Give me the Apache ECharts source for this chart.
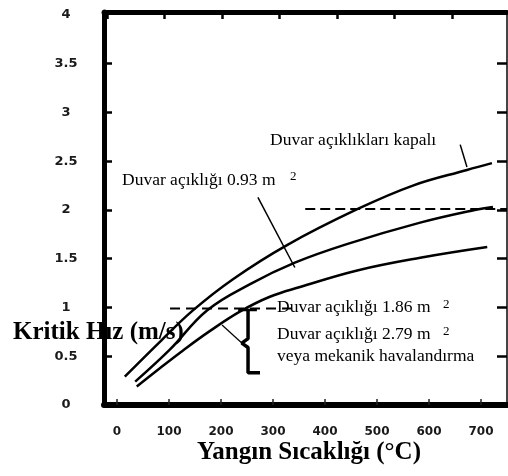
<!DOCTYPE html>
<html>
<head>
<meta charset="utf-8">
<script src="https://cdn.jsdelivr.net/npm/echarts@6/dist/echarts.min.js"></script>
<style>
html,body{margin:0;padding:0;background:#fff;}
#chart{width:508px;height:476px;}
</style>
</head>
<body>
<div id="chart"></div>
<script>
// ---- data ----
var xTickValues = [0, 100, 200, 300, 400, 500, 600, 700];
var yLabelValues = [0, 0.5, 1, 1.5, 2, 2.5, 3, 3.5, 4];
var topTickValues = [0, 100, 200, 300, 400, 500, 600];
var sideTickValues = [0.5, 1, 1.5, 2, 2.5, 3, 3.5];

// Duvar açıklıkları kapalı
var closedX = [15, 83, 146, 223, 327, 463, 569, 673, 721];
var closedY = [0.29, 0.65, 0.97, 1.29, 1.64, 2.01, 2.25, 2.41, 2.48];
// Duvar açıklığı 0.93 m2
var open093X = [35, 102, 173, 256, 342, 442, 583, 688, 723];
var open093Y = [0.24, 0.57, 0.97, 1.24, 1.46, 1.65, 1.87, 2.0, 2.03];
// Duvar açıklığı 1.86 m2
var open186X = [38, 83, 127, 179, 237, 294, 352, 462, 583, 712];
var open186Y = [0.19, 0.38, 0.56, 0.76, 0.96, 1.11, 1.21, 1.38, 1.51, 1.62];

// reference lines / leaders / bracket (data units)
var refLine2X = [362, 750];
var refLine2Y = [2.01, 2.01];
var refLine1X = [102, 346];
var refLine1Y = [0.99, 0.99];
var leader093X = [271, 342];
var leader093Y = [2.13, 1.41];
var leaderClosedX = [660, 673];
var leaderClosedY = [2.67, 2.44];
var bracketTopX = [233, 269];
var bracketTopY = [0.975, 0.975];
var bracketX = [252, 252, 240, 252, 252, 275];
var bracketY = [0.975, 0.68, 0.635, 0.59, 0.33, 0.33];
var bracketLeaderX = [202, 240];
var bracketLeaderY = [0.82, 0.636];

function pairs(xs, ys) { return xs.map(function (x, i) { return [x, ys[i]]; }); }

var chart = echarts.init(document.getElementById('chart'), null, {renderer: 'canvas'});

function lineSeries(name, xs, ys, width, dash, smooth) {
  return {
    name: name, type: 'line', xAxisIndex: 0, yAxisIndex: 0,
    data: pairs(xs, ys), showSymbol: false, symbol: 'none',
    smooth: smooth || false, silent: true,
    lineStyle: {color: '#000', width: width, type: dash || 'solid'},
    z: 5
  };
}

var serifReg = '17.5px "Liberation Serif", "Times New Roman", serif';
var serifBold = 'bold 25px "Liberation Serif", "Times New Roman", serif';
var supFont = '13px "Liberation Serif", "Times New Roman", serif';

function txt(x, y, s, font, align) {
  return {type: 'text', x: x, y: y, z: 20,
    style: {text: s, font: font, fill: '#000', align: align || 'left', verticalAlign: 'middle'}};
}

var option = {
  animation: false,
  backgroundColor: '#fff',
  grid: {left: 104, right: 1, top: 12, bottom: 71, containLabel: false},
  xAxis: [{
    type: 'value', position: 'bottom', min: -25, max: 750,
    axisLine: {show: true, onZero: false, lineStyle: {color: '#000', width: 6}},
    axisTick: {show: true, inside: true, length: 6, customValues: xTickValues, lineStyle: {color: '#222', width: 1.5}},
    axisLabel: {show: true, customValues: xTickValues, margin: 21, color: '#1a1a1a',
      fontFamily: 'DejaVu Sans', fontWeight: 'bold', fontSize: 12},
    splitLine: {show: false}
  }, {
    type: 'value', position: 'top', min: -5, max: 695,
    axisLine: {show: true, onZero: false, lineStyle: {color: '#000', width: 5}},
    axisTick: {show: true, inside: true, length: 7, customValues: topTickValues, lineStyle: {color: '#000', width: 2.5}},
    axisLabel: {show: false},
    splitLine: {show: false}
  }],
  yAxis: [{
    type: 'value', position: 'left', min: 0, max: 4.03,
    axisLine: {show: true, onZero: false, lineStyle: {color: '#000', width: 5}},
    axisTick: {show: true, inside: true, length: 8, customValues: sideTickValues, lineStyle: {color: '#000', width: 2.5}},
    axisLabel: {show: true, customValues: yLabelValues, margin: 38, align: 'center', color: '#1a1a1a',
      fontFamily: 'DejaVu Sans', fontWeight: 'bold', fontSize: 13, padding: [5, 0, 0, 0]},
    splitLine: {show: false}
  }, {
    type: 'value', position: 'right', min: 0, max: 4.03,
    axisLine: {show: true, onZero: false, lineStyle: {color: '#444', width: 2}},
    axisTick: {show: true, inside: true, length: 10, customValues: sideTickValues, lineStyle: {color: '#000', width: 2.5}},
    axisLabel: {show: false},
    splitLine: {show: false}
  }],
  series: [
    lineSeries('Duvar açıklıkları kapalı', closedX, closedY, 2.5, null, 0.4),
    lineSeries('Duvar açıklığı 0.93 m2', open093X, open093Y, 2.5, null, 0.4),
    lineSeries('Duvar açıklığı 1.86 m2', open186X, open186Y, 2.5, null, 0.4),
    lineSeries('ref2', refLine2X, refLine2Y, 2, [10, 5]),
    lineSeries('ref1', refLine1X, refLine1Y, 2, [10, 6]),
    lineSeries('leader093', leader093X, leader093Y, 1.5),
    lineSeries('leaderClosed', leaderClosedX, leaderClosedY, 1.5),
    lineSeries('bracketTop', bracketTopX, bracketTopY, 2.5),
    lineSeries('bracket', bracketX, bracketY, 3.5),
    lineSeries('bracketLeader', bracketLeaderX, bracketLeaderY, 1.2)
  ],
  graphic: [
    txt(270, 140, 'Duvar açıklıkları kapalı', serifReg),
    txt(122, 180, 'Duvar açıklığı 0.93 m', serifReg),
    txt(290, 177, '2', supFont),
    txt(277, 307, 'Duvar açıklığı 1.86 m', serifReg),
    txt(443, 305, '2', supFont),
    txt(277, 334, 'Duvar açıklığı 2.79 m', serifReg),
    txt(443, 332, '2', supFont),
    txt(277, 356, 'veya mekanik havalandırma', serifReg),
    txt(13, 333, 'Kritik Hız (m/s)', serifBold),
    txt(309, 453, 'Yangın Sıcaklığı (°C)', serifBold, 'center')
  ]
};
chart.setOption(option);
</script>
</body>
</html>
